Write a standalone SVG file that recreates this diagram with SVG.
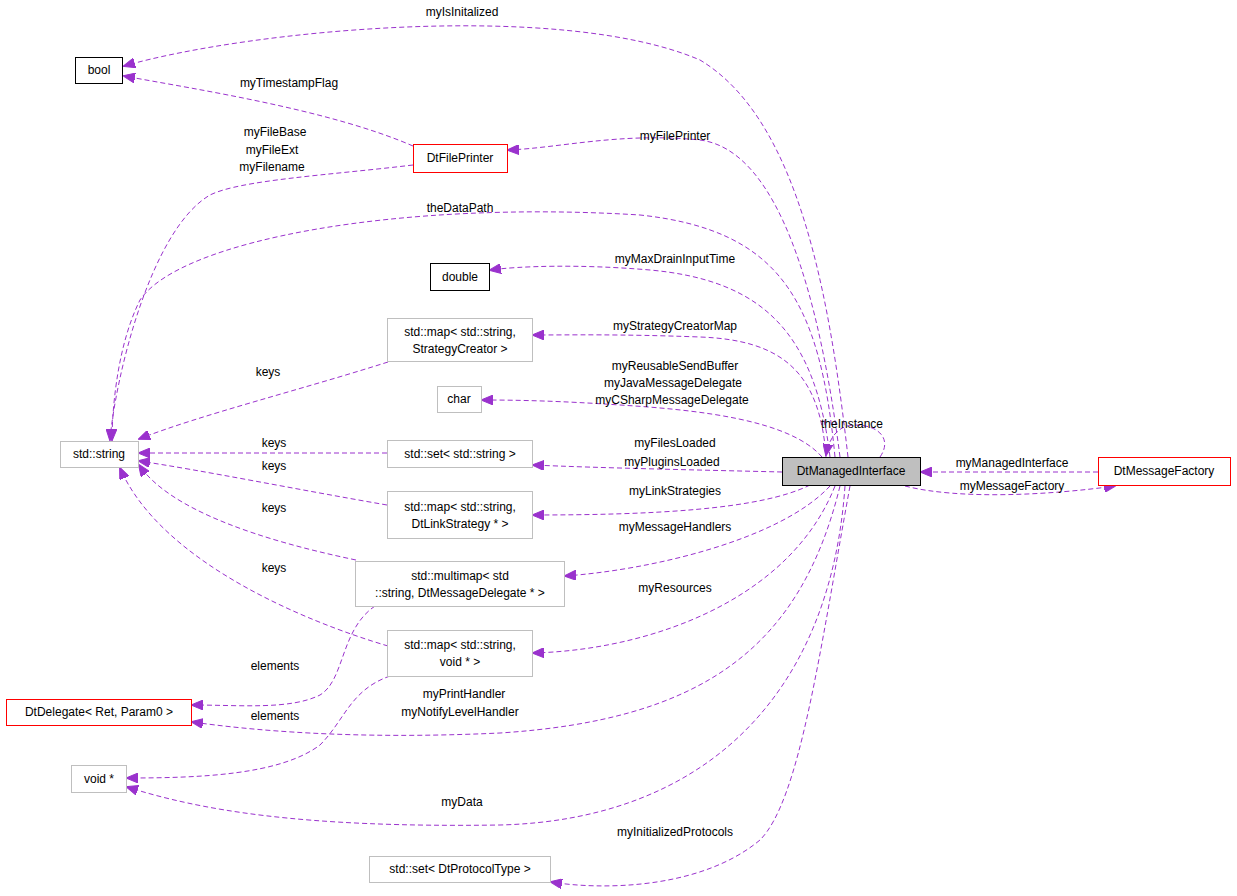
<svg xmlns="http://www.w3.org/2000/svg" width="1237" height="896" viewBox="0 0 1237 896">
<style>
text{font-family:"Liberation Sans",Arial,sans-serif;font-size:12px;fill:#000}
.n rect{fill:#fff;stroke-width:1}
.blk{stroke:#000}.gry{stroke:#bfbfbf}.red{stroke:#f00}
.e path{fill:none;stroke:#9a32cd;stroke-dasharray:5,3;marker-end:url(#ah)}
.m{text-anchor:middle}
</style>
<defs><marker id="ah" markerWidth="12" markerHeight="10" refX="11" refY="5" orient="auto" markerUnits="userSpaceOnUse"><path d="M0,0 L12,5 L0,10z" fill="#9a32cd" stroke="#9a32cd"/></marker></defs>
<rect width="1237" height="896" fill="#fff"/>
<g class="e">
<path d="M848,457 C830,300 800,120 700,60 C560,0 250,30 124,66"/>
<path d="M413,146 C330,110 200,90 124,76"/>
<path d="M840,457 C820,300 780,150 700,140 C620,132 560,148 508,150"/>
<path d="M413,165 C330,175 240,180 210,195 C150,230 115,380 110,440"/>
<path d="M835,457 C820,300 780,230 640,215 C400,200 180,240 140,300 C115,350 112,420 112,440"/>
<path d="M830,457 C815,330 760,280 650,270 C580,264 520,266 490,270"/>
<path d="M826,457 C820,370 780,340 700,337 C620,334 570,335 533,335"/>
<path d="M388,362 C300,390 200,415 139,439"/>
<path d="M822,457 C790,420 700,410 620,405 C560,401 520,400 482,400"/>
<path d="M387,453 L139,453"/>
<path d="M782,472 C700,470 600,468 533,465"/>
<path d="M387,505 C300,490 200,470 139,461"/>
<path d="M810,485 C760,510 650,515 533,515"/>
<path d="M356,560 C260,540 170,510 139,465"/>
<path d="M830,486 C780,540 650,570 565,576"/>
<path d="M388,646 C300,620 160,560 120,468"/>
<path d="M835,486 C790,600 650,650 533,653"/>
<path d="M375,606 C340,630 345,680 320,695 C290,710 240,705 192,705"/>
<path d="M390,676 C350,690 345,720 320,745 C280,775 200,778 127,778"/>
<path d="M840,486 C800,650 700,720 500,733 C350,740 250,730 192,722"/>
<path d="M845,486 C830,700 700,820 500,825 C300,828 200,810 127,787"/>
<path d="M850,486 C820,650 800,800 760,840 C700,890 600,890 551,882"/>
<path d="M1098,472 L921,472"/>
<path d="M905,486 C960,500 1050,495 1115,486"/>
<path d="M880,457 C892,440 880,425 855,425 C838,425 829,438 826,455"/>
</g>
<g class="lbl">
<text x="462" y="16" class="m">myIsInitalized</text>
<text x="289" y="87" class="m">myTimestampFlag</text>
<text x="675" y="140" class="m">myFilePrinter</text>
<text x="275" y="136" class="m">myFileBase</text>
<text x="272" y="154" class="m">myFileExt</text>
<text x="272" y="171" class="m">myFilename</text>
<text x="460" y="212" class="m">theDataPath</text>
<text x="675" y="263" class="m">myMaxDrainInputTime</text>
<text x="675" y="330" class="m">myStrategyCreatorMap</text>
<text x="268" y="376" class="m">keys</text>
<text x="675" y="370" class="m">myReusableSendBuffer</text>
<text x="673" y="387" class="m">myJavaMessageDelegate</text>
<text x="672" y="404" class="m">myCSharpMessageDelegate</text>
<text x="852" y="428" class="m">theInstance</text>
<text x="274" y="447" class="m">keys</text>
<text x="675" y="447" class="m">myFilesLoaded</text>
<text x="672" y="466" class="m">myPluginsLoaded</text>
<text x="274" y="470" class="m">keys</text>
<text x="675" y="495" class="m">myLinkStrategies</text>
<text x="274" y="512" class="m">keys</text>
<text x="675" y="531" class="m">myMessageHandlers</text>
<text x="274" y="572" class="m">keys</text>
<text x="675" y="592" class="m">myResources</text>
<text x="275" y="670" class="m">elements</text>
<text x="275" y="720" class="m">elements</text>
<text x="464" y="698" class="m">myPrintHandler</text>
<text x="460" y="716" class="m">myNotifyLevelHandler</text>
<text x="462" y="806" class="m">myData</text>
<text x="675" y="836" class="m">myInitializedProtocols</text>
<text x="1012" y="467" class="m">myManagedInterface</text>
<text x="1012" y="490" class="m">myMessageFactory</text>
</g>
<g id="bool" class="n"><rect x="75.500" y="57.500" width="47" height="26" class="blk"/><text x="99" y="74" class="m">bool</text></g>
<g id="DtFilePrinter" class="n"><rect x="413.500" y="144.500" width="94" height="28" class="red"/><text x="460" y="162" class="m">DtFilePrinter</text></g>
<g id="double" class="n"><rect x="430.500" y="263.500" width="59" height="27" class="blk"/><text x="460" y="281" class="m">double</text></g>
<g id="mapStrategy" class="n"><rect x="387.500" y="318.500" width="145" height="43" class="gry"/><text x="460" y="336" class="m">std::map&lt; std::string,</text><text x="460" y="353" class="m">StrategyCreator &gt;</text></g>
<g id="char" class="n"><rect x="437.500" y="386.500" width="44" height="26" class="gry"/><text x="459" y="403" class="m">char</text></g>
<g id="string" class="n"><rect x="60.500" y="441.500" width="78" height="26" class="gry"/><text x="99" y="458" class="m">std::string</text></g>
<g id="setString" class="n"><rect x="387.500" y="440.500" width="145" height="27" class="gry"/><text x="460" y="458" class="m">std::set&lt; std::string &gt;</text></g>
<g id="mapLink" class="n"><rect x="387.500" y="491.500" width="145" height="47" class="gry"/><text x="460" y="511" class="m">std::map&lt; std::string,</text><text x="460" y="528" class="m">DtLinkStrategy * &gt;</text></g>
<g id="multimap" class="n"><rect x="355.500" y="561.500" width="209" height="45" class="gry"/><text x="460" y="580" class="m">std::multimap&lt; std</text><text x="460" y="597" class="m">::string, DtMessageDelegate * &gt;</text></g>
<g id="mapVoid" class="n"><rect x="387.500" y="630.500" width="145" height="46" class="gry"/><text x="460" y="649" class="m">std::map&lt; std::string,</text><text x="460" y="666" class="m">void * &gt;</text></g>
<g id="DtDelegate" class="n"><rect x="6.500" y="699.500" width="185" height="26" class="red"/><text x="99" y="716" class="m">DtDelegate&lt; Ret, Param0 &gt;</text></g>
<g id="voidp" class="n"><rect x="71.500" y="765.500" width="55" height="27" class="gry"/><text x="99" y="783" class="m">void *</text></g>
<g id="setProto" class="n"><rect x="369.500" y="856.500" width="181" height="26" class="gry"/><text x="460" y="873" class="m">std::set&lt; DtProtocolType &gt;</text></g>
<g id="DtManagedInterface" class="n"><rect x="782.500" y="457.500" width="138" height="28" class="blk" style="fill:#bfbfbf"/><text x="851" y="475" class="m">DtManagedInterface</text></g>
<g id="DtMessageFactory" class="n"><rect x="1098.500" y="457.500" width="132" height="28" class="red"/><text x="1164" y="475" class="m">DtMessageFactory</text></g>
</svg>
